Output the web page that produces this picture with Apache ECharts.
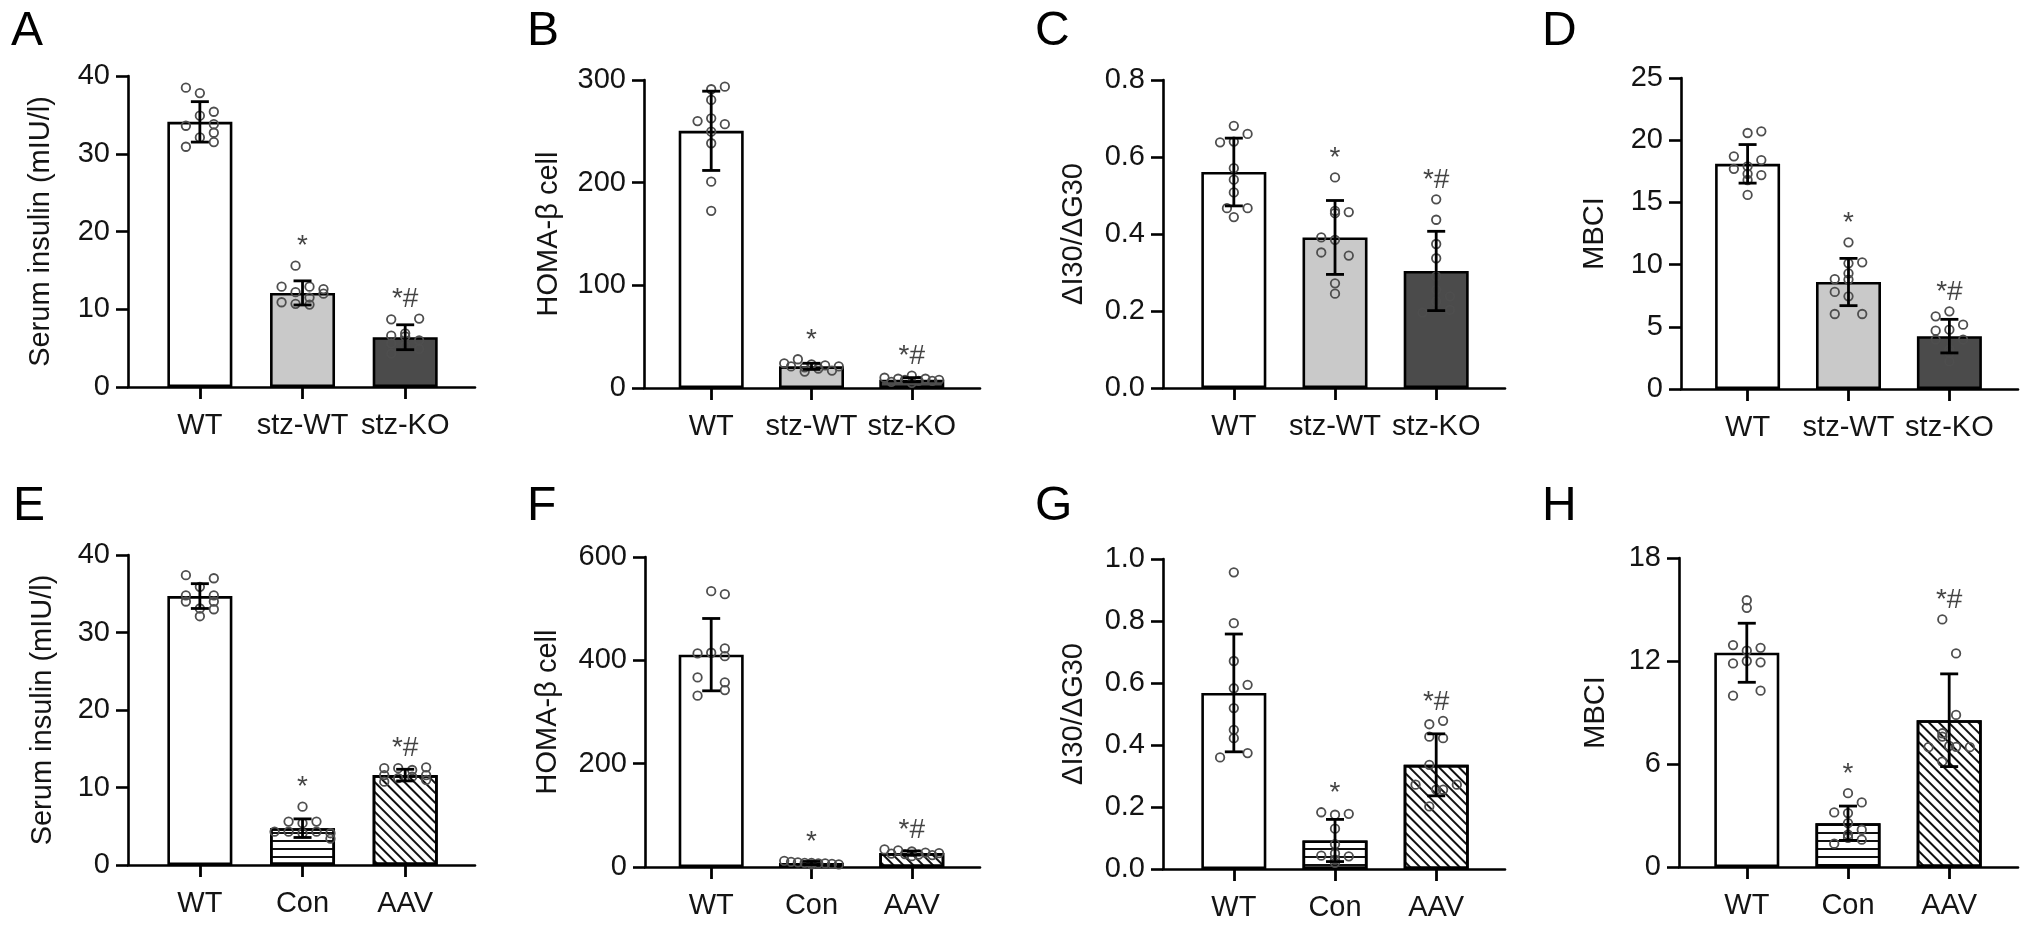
<!DOCTYPE html>
<html>
<head>
<meta charset="utf-8">
<script src="https://cdn.jsdelivr.net/npm/echarts@6.0.0/dist/echarts.min.js"></script>
<style>
  html, body { margin: 0; padding: 0; background: #fff; }
  #chart { width: 2032px; height: 927px; }
</style>
</head>
<body>
<div id="chart"></div>
<script>
// groups
const catsTop = ['WT', 'stz-WT', 'stz-KO'];
const catsBottom = ['WT', 'Con', 'AAV'];
const marks = ['', '*', '*#'];

// A: serum insulin, stz model
const A_mean = [34.1, 12.1, 6.4];
const A_sd = [2.6, 1.55, 1.6];
const A_pts = [
  [38.5, 37.8, 35.4, 34.9, 33.6, 33.8, 32.1, 32.7, 30.9, 31.5],
  [15.6, 12.9, 12.9, 12.6, 12.2, 12.0, 11.5, 10.9, 10.7, 10.6],
  [8.7, 8.8, 6.6, 6.9, 6.0, 5.6, 5.3, 4.9, 4.3, 6.5]
];
// B: HOMA-beta cell
const B_mean = [250.5, 21.1, 8.1];
const B_sd = [38.6, 3.0, 2.0];
const B_pts = [
  [291, 293.5, 260, 257, 280.6, 262.7, 249.7, 238.4, 201, 172.6],
  [28, 24, 23, 22, 21, 21, 20, 19, 17, 16],
  [12, 10, 9, 9, 8, 8, 7, 7, 6, 5]
];
// C: dI30/dG30
const C_mean = [0.561, 0.391, 0.304];
const C_sd = [0.088, 0.096, 0.103];
const C_pts = [
  [0.681, 0.660, 0.638, 0.640, 0.571, 0.541, 0.508, 0.467, 0.467, 0.444],
  [0.547, 0.457, 0.454, 0.391, 0.385, 0.352, 0.344, 0.272, 0.245, 0.46],
  [0.490, 0.437, 0.374, 0.337, 0.290, 0.255, 0.238, 0.196, 0.203, 0.225]
];
// D: MBCI
const D_mean = [18.1, 8.6, 4.25];
const D_sd = [1.55, 1.9, 1.35];
const D_pts = [
  [20.58, 20.71, 18.7, 18.4, 17.7, 17.2, 17.9, 16.8, 15.6, 17.3],
  [11.79, 10.18, 8.84, 10.1, 7.8, 8.8, 7.45, 6.03, 6.03, 9.3],
  [6.24, 5.84, 5.17, 4.69, 4.77, 3.97, 3.97, 3.16, 2.22, 2.9]
];
// E: serum insulin, AAV model
const E_mean = [34.7, 4.75, 11.6];
const E_sd = [1.6, 1.2, 0.75];
const E_pts = [
  [37.4, 37.0, 35.9, 34.8, 34.8, 34.0, 34.0, 33.1, 32.1, 33.0],
  [7.53, 5.6, 5.6, 5.4, 4.3, 4.3, 4.3, 4.1, 3.4, 4.1],
  [12.5, 12.6, 12.5, 12.26, 11.6, 11.6, 11.2, 11.4, 10.75, 10.97]
];
// F: HOMA-beta cell
const F_mean = [411, 7.7, 27];
const F_sd = [70, 3, 4];
const F_pts = [
  [533.8, 528, 413.4, 414.7, 423, 408, 367, 357.4, 342.5, 331.6],
  [12, 10, 9, 8, 8, 7, 7, 6, 5, 5],
  [34, 32, 30, 28, 27, 26, 25, 24, 23, 21]
];
// G: dI30/dG30
const G_mean = [0.568, 0.092, 0.336];
const G_sd = [0.19, 0.068, 0.1];
const G_pts = [
  [0.957, 0.793, 0.594, 0.671, 0.583, 0.519, 0.449, 0.422, 0.360, 0.374],
  [0.183, 0.175, 0.178, 0.043, 0.041, 0.030, 0.05, 0.08, 0.13, 0.02],
  [0.467, 0.478, 0.427, 0.422, 0.336, 0.272, 0.272, 0.256, 0.202, 0.256]
];
// H: MBCI
const H_mean = [12.48, 2.55, 8.55];
const H_sd = [1.72, 1.0, 2.7];
const H_pts = [
  [15.54, 15.1, 12.93, 12.77, 12.6, 11.86, 11.92, 9.98, 10.27, 12.0],
  [4.3, 3.76, 3.18, 3.14, 2.56, 2.17, 1.88, 1.59, 1.36, 1.7],
  [14.42, 12.44, 8.86, 7.79, 6.98, 7.05, 6.98, 6.14, 7.6, 7.0]
];

// dot columns (horizontal spread of the scatter, layout only)
const A_cols = [[-2,0,2,0,-2,2,0,2,-2,2], [-1,-3,1,3,-1,3,1,-3,-1,1], [-2,2,-2,0,2,-2,0,2,-2,0]];
const B_cols = [[0,2,-2,2,0,0,0,0,0,0], [-2,-4,0,2,-3,4,-1,1,3,-1], [0,-4,-2,2,4,-1,1,3,-3,0]];
const C_cols = [[0,2,-2,0,0,0,0,2,-1,0], [0,2,0,-2,0,-2,2,0,0,0], [0,0,0,0,0,0,2,-2,2,0]];
const D_cols = [[0,2,-2,2,-2,2,0,0,0,0], [0,2,-2,0,-2,0,0,-2,2,0], [0,-2,2,-2,0,-2,2,0,0,0]];
const E_cols = [[-2,2,0,-2,2,-2,2,0,0,2], [0,-2,2,0,-4,-2,2,4,4,0], [-3,3,-1,1,-3,3,-1,1,-3,3]];
const F_cols = [[0,2,-2,0,2,2,-2,2,2,-2], [-4,-3,-2,-1,0,1,2,3,4,0], [-4,-2,0,2,4,-3,-1,1,3,0]];
const G_cols = [[0,0,2,0,0,0,0,0,-2,2], [-2,0,2,-2,2,0,0,0,0,0], [-1,1,-1,1,-1,-3,3,0,-1,1]];
const H_cols = [[0,0,-2,2,0,-2,2,-2,2,0], [0,2,-2,0,0,2,0,2,-2,0], [-1,1,1,-1,-3,0,3,-1,-1,1]];

const FONT = 'Liberation Sans, Arial, Helvetica, sans-serif';
const INK = '#141414';

const fills = {
  white: { color: '#ffffff' },
  light: { color: '#c9c9c9' },
  dark: { color: '#4b4b4b' },
  hlines: { color: '#ffffff', decal: { symbol: 'rect', symbolSize: 1, color: '#111', dashArrayX: [1, 0], dashArrayY: [1.8, 5.5], rotation: 0 } },
  diag: { color: '#ffffff', decal: { symbol: 'rect', symbolSize: 1, color: '#111', dashArrayX: [1, 0], dashArrayY: [1.6, 4.3], rotation: Math.PI / 4 } }
};

const panels = [
  { tag: 'A', name: 'Serum insulin (mIU/l)', cats: catsTop, mean: A_mean, sd: A_sd, pts: A_pts, cols: A_cols, max: 40, step: 10, dec: 0, fill: ['white', 'light', 'dark'] },
  { tag: 'B', name: 'HOMA-\u03b2 cell', cats: catsTop, mean: B_mean, sd: B_sd, pts: B_pts, cols: B_cols, max: 300, step: 100, dec: 0, fill: ['white', 'light', 'dark'] },
  { tag: 'C', name: '\u0394I30/\u0394G30', cats: catsTop, mean: C_mean, sd: C_sd, pts: C_pts, cols: C_cols, max: 0.8, step: 0.2, dec: 1, fill: ['white', 'light', 'dark'] },
  { tag: 'D', name: 'MBCI', cats: catsTop, mean: D_mean, sd: D_sd, pts: D_pts, cols: D_cols, max: 25, step: 5, dec: 0, fill: ['white', 'light', 'dark'] },
  { tag: 'E', name: 'Serum insulin (mIU/l)', cats: catsBottom, mean: E_mean, sd: E_sd, pts: E_pts, cols: E_cols, max: 40, step: 10, dec: 0, fill: ['white', 'hlines', 'diag'] },
  { tag: 'F', name: 'HOMA-\u03b2 cell', cats: catsBottom, mean: F_mean, sd: F_sd, pts: F_pts, cols: F_cols, max: 600, step: 200, dec: 0, fill: ['white', 'hlines', 'diag'] },
  { tag: 'G', name: '\u0394I30/\u0394G30', cats: catsBottom, mean: G_mean, sd: G_sd, pts: G_pts, cols: G_cols, max: 1.0, step: 0.2, dec: 1, fill: ['white', 'hlines', 'diag'] },
  { tag: 'H', name: 'MBCI', cats: catsBottom, mean: H_mean, sd: H_sd, pts: H_pts, cols: H_cols, max: 18, step: 6, dec: 0, fill: ['white', 'hlines', 'diag'] }
];

// pixel layout of each panel
const layout = [
  { left: 128, width: 347, top: 76, height: 311, xmin: -0.70, gap: 73, lx: 11, ly: 8 },
  { left: 644, width: 336, top: 80, height: 308, xmin: -0.67, gap: 81, lx: 527, ly: 8 },
  { left: 1163, width: 342, top: 80, height: 308, xmin: -0.70, gap: 75, lx: 1035, ly: 8 },
  { left: 1681, width: 337, top: 78, height: 311, xmin: -0.66, gap: 72, lx: 1542, ly: 8 },
  { left: 128, width: 347, top: 555, height: 310, xmin: -0.70, gap: 71, lx: 13, ly: 483 },
  { left: 645, width: 335, top: 557, height: 310, xmin: -0.66, gap: 83, lx: 527, ly: 483 },
  { left: 1163, width: 342, top: 559, height: 310, xmin: -0.70, gap: 75, lx: 1035, ly: 483 },
  { left: 1679, width: 339, top: 558, height: 309, xmin: -0.67, gap: 69, lx: 1542, ly: 483 }
];
const XMAX = 2.68;
const JIT = 0.068;
const TICK = 12;
const N = panels.length;

const grid = [], xAxis = [], yAxis = [], series = [], graphic = [];

panels.forEach(function (p, i) {
  const L = layout[i];
  grid.push({ left: L.left, top: L.top, width: L.width, height: L.height });
  xAxis.push({
    type: 'value', gridIndex: i, min: L.xmin, max: XMAX,
    axisLine: { show: true, onZero: false, lineStyle: { color: '#000', width: 2.6 } },
    axisTick: { show: false },
    axisLabel: { show: false },
    splitLine: { show: false }
  });
  yAxis.push({
    type: 'value', gridIndex: i, min: 0, max: p.max, interval: p.step,
    name: p.name, nameLocation: 'middle', nameGap: L.gap,
    nameTextStyle: { color: INK, fontFamily: FONT, fontSize: 29 },
    axisLine: { show: true, onZero: false, lineStyle: { color: '#000', width: 2.6 } },
    axisTick: { show: true, length: TICK, lineStyle: { color: '#000', width: 2.6 } },
    axisLabel: {
      margin: 18, color: INK, fontFamily: FONT, fontSize: 29,
      formatter: function (v) { return p.dec ? v.toFixed(p.dec) : String(Math.round(v)); }
    },
    splitLine: { show: false }
  });

  series.push({
    type: 'bar', xAxisIndex: i, yAxisIndex: i, barWidth: 65, z: 2, silent: true,
    data: p.mean.map(function (m, j) {
      const f = fills[p.fill[j]];
      return { value: [j, m], itemStyle: Object.assign({ borderColor: '#000', borderWidth: 2.6 }, f) };
    })
  });

  const dots = [];
  p.pts.forEach(function (g, j) {
    g.forEach(function (v, k) { dots.push([j + p.cols[j][k] * JIT, v]); });
  });
  series.push({
    type: 'scatter', xAxisIndex: i, yAxisIndex: i, z: 3, silent: true,
    symbol: 'circle', symbolSize: 8.5,
    itemStyle: { color: 'rgba(0,0,0,0)', borderColor: '#4e4e4e', borderWidth: 1.8, opacity: 1 },
    data: dots
  });

  // mean +/- SD error bars
  series.push({
    type: 'custom', xAxisIndex: i, yAxisIndex: i, z: 4, silent: true,
    data: p.mean.map(function (m, j) { return [j, m - p.sd[j], m + p.sd[j]]; }),
    encode: { x: 0, y: [1, 2] },
    renderItem: function (params, api) {
      const x = api.value(0);
      const a = api.coord([x, api.value(2)]);
      const b = api.coord([x, api.value(1)]);
      const w = 9;
      const st = { stroke: '#000', lineWidth: 2.8 };
      return {
        type: 'group', children: [
          { type: 'line', shape: { x1: a[0], y1: a[1], x2: b[0], y2: b[1] }, style: st },
          { type: 'line', shape: { x1: a[0] - w, y1: a[1], x2: a[0] + w, y2: a[1] }, style: st },
          { type: 'line', shape: { x1: b[0] - w, y1: b[1], x2: b[0] + w, y2: b[1] }, style: st }
        ]
      };
    }
  });

  const markData = [];
  p.mean.forEach(function (m, j) {
    if (!marks[j]) return;
    const top = Math.max(m + p.sd[j], Math.max.apply(null, p.pts[j]));
    markData.push({ value: [j, top], label: { formatter: marks[j] } });
  });
  series.push({
    type: 'scatter', xAxisIndex: i, yAxisIndex: i, z: 5, silent: true,
    symbolSize: 0,
    label: { show: true, position: 'inside', offset: [0, -19], color: INK, fontFamily: FONT, fontSize: 28 },
    data: markData
  });

  graphic.push({
    type: 'text', left: L.lx, top: L.ly,
    style: { text: p.tag, fill: '#000', font: '48px ' + FONT }
  });
});

// category axes: span exactly from the first to the last group centre
panels.forEach(function (p, i) {
  const L = layout[i];
  const ppu = L.width / (XMAX - L.xmin);
  grid.push({ left: L.left - L.xmin * ppu, top: L.top, width: (p.cats.length - 1) * ppu, height: L.height });
  xAxis.push({
    type: 'value', gridIndex: N + i, min: 0, max: p.cats.length - 1, interval: 1,
    axisLine: { show: true, onZero: false, lineStyle: { color: 'rgba(0,0,0,0)', width: 0 } },
    axisTick: { show: true, inside: false, length: TICK, lineStyle: { color: '#000', width: 2.8 } },
    axisLabel: {
      margin: 24, color: INK, fontFamily: FONT, fontSize: 29, showMinLabel: true, showMaxLabel: true,
      formatter: function (v) { return p.cats[Math.round(v)]; }
    },
    splitLine: { show: false }
  });
  yAxis.push({ type: 'value', gridIndex: N + i, min: 0, max: 1, show: false });
});

const chart = echarts.init(document.getElementById('chart'), null, { renderer: 'canvas' });
chart.setOption({
  animation: false,
  backgroundColor: '#fff',
  grid: grid, xAxis: xAxis, yAxis: yAxis, series: series, graphic: graphic
});
</script>
</body>
</html>
